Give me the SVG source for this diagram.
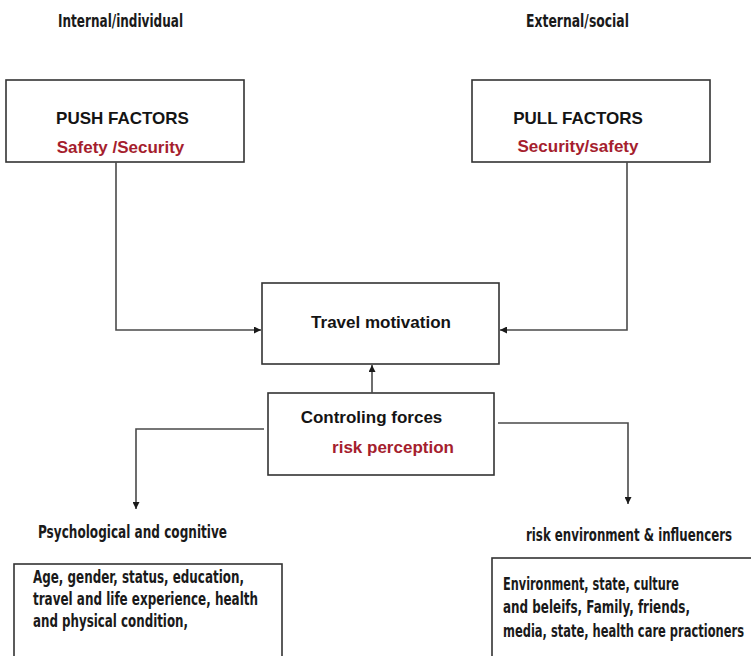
<svg xmlns="http://www.w3.org/2000/svg" width="751" height="656" viewBox="0 0 751 656">
<style>
.box{fill:#fff;stroke:#333;stroke-width:1.6}
.ar{font-family:"Liberation Sans",Arial,sans-serif;font-weight:bold;font-size:17px;fill:#141414}
.red{fill:#a51e2e}
.cd{font-family:"DejaVu Sans Condensed","DejaVu Sans",sans-serif;font-stretch:condensed;font-weight:bold;fill:#1a1a1a}
.conn{fill:none;stroke:#4a4a4a;stroke-width:1.6}
</style>
<defs>
<marker id="ah" viewBox="0 0 10 10" refX="10" refY="5" markerWidth="9" markerHeight="7" markerUnits="userSpaceOnUse" orient="auto">
<path d="M0,0 L10,5 L0,10 z" fill="#1a1a1a"/>
</marker>
</defs>
<rect width="751" height="656" fill="#fff"/>
<g id="header-left"><text class="cd" transform="translate(58,27) scale(0.75,1)" font-size="18" textLength="166.7" lengthAdjust="spacingAndGlyphs">Internal/individual</text></g>
<g id="header-right"><text class="cd" transform="translate(526,27) scale(0.75,1)" font-size="18" textLength="137.3" lengthAdjust="spacingAndGlyphs">External/social</text></g>
<g id="push">
<rect class="box" x="6" y="80" width="238" height="82"/>
<text class="ar" x="122.5" y="124" text-anchor="middle">PUSH FACTORS</text>
<text class="ar red" x="120.5" y="153" text-anchor="middle">Safety /Security</text>
</g>
<g id="pull">
<rect class="box" x="472" y="80" width="238" height="82"/>
<text class="ar" x="578" y="124" text-anchor="middle">PULL FACTORS</text>
<text class="ar red" x="578" y="152" text-anchor="middle">Security/safety</text>
</g>
<g id="travel">
<rect class="box" x="262" y="283" width="237" height="81"/>
<text class="ar" x="381" y="328" text-anchor="middle">Travel motivation</text>
</g>
<g id="controlling">
<rect class="box" x="268" y="393" width="226" height="82"/>
<text class="ar" x="371.5" y="423" text-anchor="middle">Controling forces</text>
<text class="ar red" x="393" y="453" text-anchor="middle">risk perception</text>
</g>
<g id="psych">
<text class="cd" transform="translate(38,538) scale(0.75,1)" font-size="17" textLength="252" lengthAdjust="spacingAndGlyphs">Psychological and cognitive</text>
<rect class="box" x="14" y="564" width="268" height="100"/>
<text class="cd" transform="translate(33,583) scale(0.75,1)" font-size="17" textLength="281.3" lengthAdjust="spacingAndGlyphs">Age, gender, status, education,</text>
<text class="cd" transform="translate(33,605) scale(0.75,1)" font-size="17" textLength="300" lengthAdjust="spacingAndGlyphs">travel and life experience, health</text>
<text class="cd" transform="translate(33,627) scale(0.75,1)" font-size="17" textLength="206.7" lengthAdjust="spacingAndGlyphs">and physical condition,</text>
</g>
<g id="risk-env">
<text class="cd" transform="translate(526,541) scale(0.75,1)" font-size="17" textLength="274.7" lengthAdjust="spacingAndGlyphs">risk environment &amp; influencers</text>
<rect class="box" x="492" y="558" width="270" height="106"/>
<text class="cd" transform="translate(503,590) scale(0.75,1)" font-size="17" textLength="234.7" lengthAdjust="spacingAndGlyphs">Environment, state, culture</text>
<text class="cd" transform="translate(503,613) scale(0.75,1)" font-size="17" textLength="249.3" lengthAdjust="spacingAndGlyphs">and beleifs, Family, friends,</text>
<text class="cd" transform="translate(503,637) scale(0.75,1)" font-size="17" textLength="321.3" lengthAdjust="spacingAndGlyphs">media, state, health care practioners</text>
</g>
<g id="connectors">
<path class="conn" d="M116 162 V330 H261" marker-end="url(#ah)"/>
<path class="conn" d="M627 162 V330 H500" marker-end="url(#ah)"/>
<path class="conn" d="M372 393 V365" marker-end="url(#ah)"/>
<path class="conn" d="M264 429 H136 V509" marker-end="url(#ah)"/>
<path class="conn" d="M498 423 H628 V504" marker-end="url(#ah)"/>
</g>
</svg>
